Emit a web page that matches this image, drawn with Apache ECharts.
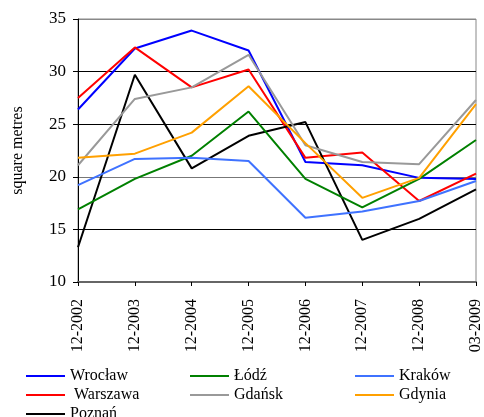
<!DOCTYPE html>
<html>
<head>
<meta charset="utf-8">
<script src="https://cdn.jsdelivr.net/npm/echarts@6/dist/echarts.min.js"></script>
<style>
  html, body { margin: 0; padding: 0; background: #fff; }
  #chart { width: 484px; height: 417px; }
</style>
</head>
<body>
<div id="chart"></div>
<script>
var categories = ['12-2002', '12-2003', '12-2004', '12-2005', '12-2006', '12-2007', '12-2008', '03-2009']

var wroclaw  = [26.4, 32.2, 33.9, 32.0, 21.4, 21.1, 19.9, 19.8]
var warszawa = [27.5, 32.3, 28.5, 30.2, 21.8, 22.3, 17.7, 20.3]
var poznan   = [13.3, 29.7, 20.8, 23.9, 25.2, 14.0, 16.0, 18.8]
var lodz     = [16.9, 19.8, 22.0, 26.2, 19.8, 17.1, 19.8, 23.5]
var gdansk   = [21.1, 27.4, 28.5, 31.6, 23.0, 21.4, 21.2, 27.3]
var krakow   = [19.2, 21.7, 21.8, 21.5, 16.1, 16.7, 17.7, 19.6]
var gdynia   = [21.8, 22.2, 24.2, 28.6, 23.2, 18.0, 19.9, 26.9]

var font = 'Liberation Serif'

function line(name, data, color) {
  return {
    name: name,
    type: 'line',
    data: data,
    symbol: 'none',
    lineStyle: { color: color, width: 2 },
    itemStyle: { color: color }
  }
}

// one legend per column, so the three columns line up
function legend(left, names) {
  return {
    left: left,
    top: 363,
    height: 90,
    orient: 'vertical',
    icon: 'rect',
    itemWidth: 39,
    itemHeight: 2,
    itemGap: 3,
    textStyle: { fontFamily: font, fontSize: 16, color: '#000' },
    data: names
  }
}

var chart = echarts.init(document.getElementById('chart'))

chart.setOption({
  animation: false,
  grid: {
    left: 78, right: 2, top: 19, bottom: 135,
    show: true, borderColor: '#888', borderWidth: 1
  },
  legend: [
    legend(21, ['Wrocław', ' Warszawa', 'Poznań']),
    legend(185, ['Łódź', 'Gdańsk']),
    legend(350, ['Kraków', 'Gdynia'])
  ],
  xAxis: {
    type: 'category',
    data: categories,
    boundaryGap: false,
    axisLine: { lineStyle: { color: '#666', width: 2 } },
    axisTick: { show: true, length: 4, lineStyle: { color: '#000' } },
    axisLabel: {
      rotate: 90, fontFamily: font, fontSize: 16, color: '#000', margin: 17,
      showMaxLabel: true, interval: 0
    },
    splitLine: { show: false }
  },
  yAxis: {
    type: 'value',
    min: 10, max: 35, interval: 5,
    name: 'square metres',
    nameLocation: 'middle',
    nameRotate: 90,
    nameGap: 52,
    nameTextStyle: { fontFamily: font, fontSize: 16, color: '#000' },
    axisLine: { show: true, lineStyle: { color: '#000', width: 1 } },
    axisTick: { show: true, length: 5, lineStyle: { color: '#000' } },
    axisLabel: { fontFamily: font, fontSize: 17, color: '#000', margin: 12 },
    splitLine: {
      show: true,
      lineStyle: { color: ['#888', '#000', '#777', '#000', '#000', '#888'], width: 1 }
    }
  },
  series: [
    line('Wrocław', wroclaw, '#0000ff'),
    line(' Warszawa', warszawa, '#ff0000'),
    line('Poznań', poznan, '#000000'),
    line('Łódź', lodz, '#008000'),
    line('Gdańsk', gdansk, '#999999'),
    line('Kraków', krakow, '#3f72ff'),
    line('Gdynia', gdynia, '#ffa000')
  ]
})
</script>
</body>
</html>
